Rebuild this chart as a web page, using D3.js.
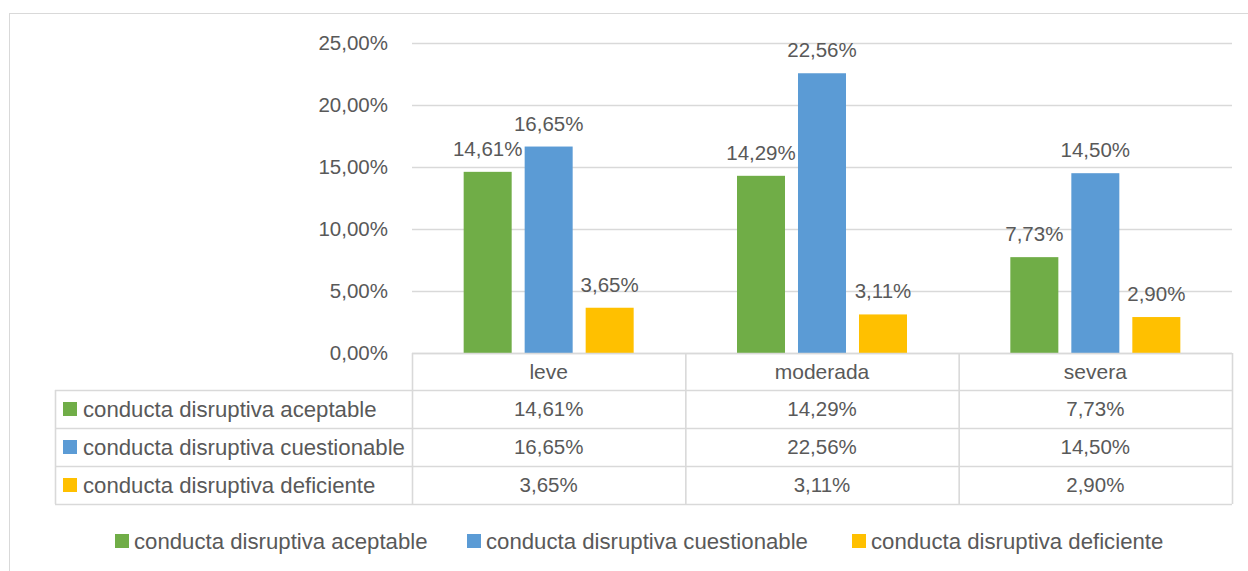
<!DOCTYPE html>
<html>
<head>
<meta charset="utf-8">
<script src="https://cdn.jsdelivr.net/npm/d3@7"></script>
<style>
  body { margin: 0; background: #fff; }
  text { font-family: "Liberation Sans", Arial, sans-serif; fill: #595959; }
</style>
</head>
<body>
<script>
let width = 1248;
let height = 571;

let categories = ["leve", "moderada", "severa"];
let series = ["conducta disruptiva aceptable", "conducta disruptiva cuestionable", "conducta disruptiva deficiente"];
let colors = ["#70AD47", "#5B9BD5", "#FFC000"];
let aceptable = [14.61, 14.29, 7.73];
let cuestionable = [16.65, 22.56, 14.50];
let deficiente = [3.65, 3.11, 2.90];
let yTicks = [0, 5, 10, 15, 20, 25];

let values = [aceptable, cuestionable, deficiente];

let fmt = v => v.toFixed(2).replace(".", ",") + "%";

let svg = d3.select("body").append("svg")
            .attr("width", width)
            .attr("height", height);

// chart frame (runs off the right and bottom edge)
svg.append("rect")
   .attr("x", 9.5).attr("y", 13.5)
   .attr("width", 1260).attr("height", 600)
   .attr("fill", "none").attr("stroke", "#D9D9D9").attr("stroke-width", 1);

let plotLeft = 412, plotRight = 1232;
let y = d3.scaleLinear().domain([0, 25]).range([353, 43]);
let x0 = d3.scaleBand().domain(categories).range([plotLeft, plotRight]);
let x1 = d3.scaleBand().domain(series).range([0, x0.bandwidth()])
           .paddingInner(0.213).paddingOuter(0.847);

// gridlines
svg.append("g").selectAll("line")
   .data(yTicks).enter().append("line")
   .attr("x1", plotLeft).attr("x2", plotRight)
   .attr("y1", d => Math.round(y(d)) + 0.5).attr("y2", d => Math.round(y(d)) + 0.5)
   .attr("stroke", "#D9D9D9").attr("stroke-width", 1.3);

// y tick labels
svg.append("g").selectAll("text")
   .data(yTicks).enter().append("text")
   .attr("x", 388).attr("y", d => y(d))
   .attr("dy", "0.36em")
   .attr("text-anchor", "end")
   .attr("font-size", 20.5)
   .text(d => fmt(d));

// bars
let groups = svg.append("g").selectAll("g")
   .data(categories).enter().append("g")
   .attr("transform", d => "translate(" + x0(d) + ",0)");

groups.selectAll("rect")
   .data((c, i) => series.map((s, j) => ({ s: s, j: j, v: values[j][i] })))
   .enter().append("rect")
   .attr("x", d => x1(d.s))
   .attr("width", x1.bandwidth())
   .attr("y", d => y(d.v))
   .attr("height", d => y(0) - y(d.v))
   .attr("fill", d => colors[d.j]);

groups.selectAll("text")
   .data((c, i) => series.map((s, j) => ({ s: s, j: j, v: values[j][i] })))
   .enter().append("text")
   .attr("x", d => x1(d.s) + x1.bandwidth() / 2)
   .attr("y", d => y(d.v) - 16)
   .attr("text-anchor", "middle")
   .attr("font-size", 20.5)
   .text(d => fmt(d.v));

// data table
let tableLeft = 55;
let rowTop = [353, 390, 428, 466, 504];
let table = svg.append("g");
let lineColor = "#D9D9D9";

// horizontal lines
rowTop.forEach((ry, k) => {
  table.append("line")
       .attr("x1", k === 0 ? plotLeft : tableLeft).attr("x2", plotRight)
       .attr("y1", ry + 0.5).attr("y2", ry + 0.5)
       .attr("stroke", lineColor).attr("stroke-width", 1.6);
});

// vertical lines
let colEdges = [plotLeft].concat(categories.map(c => x0(c) + x0.bandwidth()));
colEdges.forEach(cx => {
  table.append("line")
       .attr("x1", cx + 0.5).attr("x2", cx + 0.5)
       .attr("y1", 353).attr("y2", 504)
       .attr("stroke", lineColor).attr("stroke-width", 1.6);
});
table.append("line")
     .attr("x1", tableLeft + 0.5).attr("x2", tableLeft + 0.5)
     .attr("y1", 390).attr("y2", 504)
     .attr("stroke", lineColor).attr("stroke-width", 1.6);

// header
table.selectAll("text.head")
     .data(categories).enter().append("text")
     .attr("class", "head")
     .attr("x", d => x0(d) + x0.bandwidth() / 2)
     .attr("y", (rowTop[0] + rowTop[1]) / 2)
     .attr("dy", "0.36em")
     .attr("text-anchor", "middle")
     .attr("font-size", 21)
     .text(d => d);

series.forEach((s, j) => {
  let cy = (rowTop[j + 1] + rowTop[j + 2]) / 2;
  table.append("rect")
       .attr("x", 63).attr("y", cy - 7)
       .attr("width", 14).attr("height", 14)
       .attr("fill", colors[j]);
  table.append("text")
       .attr("x", 83).attr("y", cy)
       .attr("dy", "0.36em")
       .attr("font-size", 22.2)
       .text(s);
  table.selectAll("text.v" + j)
       .data(values[j]).enter().append("text")
       .attr("class", "v" + j)
       .attr("x", (d, i) => x0(categories[i]) + x0.bandwidth() / 2)
       .attr("y", cy)
       .attr("dy", "0.36em")
       .attr("text-anchor", "middle")
       .attr("font-size", 20.5)
       .text(d => fmt(d));
});

// legend
let legendX = [115, 467, 852];
let legend = svg.append("g").selectAll("g")
   .data(series).enter().append("g")
   .attr("transform", (d, i) => "translate(" + legendX[i] + ",541)");
legend.append("rect")
      .attr("x", 0).attr("y", -7)
      .attr("width", 14).attr("height", 14)
      .attr("fill", (d, i) => colors[i]);
legend.append("text")
      .attr("x", 19).attr("y", 0)
      .attr("dy", "0.36em")
      .attr("font-size", 22.2)
      .text(d => d);
</script>
</body>
</html>
